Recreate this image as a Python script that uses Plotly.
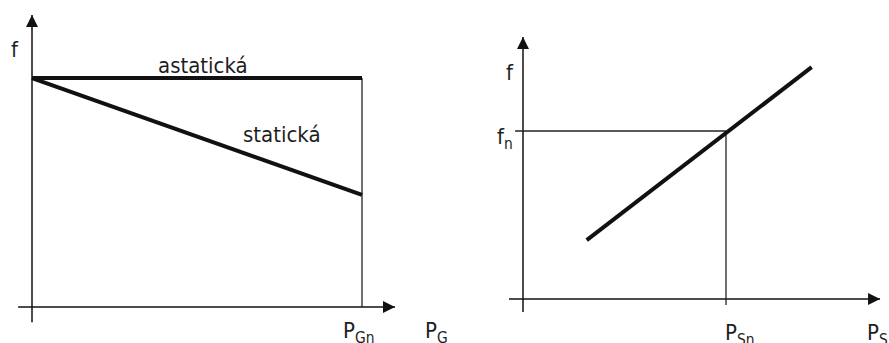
import plotly.graph_objects as go

# ---------------- data (conceptual units) ----------------
# Left panel: generator characteristics f(P_G), P_Gn = 1, nominal f = 1
pg = [0.0, 1.0]
f_astatic = [1.0, 1.0]
f_static = [1.0, 0.49]
pg_n = 1.0

# Right panel: load characteristic f(P_S), P_Sn = 1, f_n = 1
ps = [0.314, 1.422]
f_load = [0.35, 1.38]
ps_n = 1.0
f_n = 1.0

# axis extents (tail, arrow tip)
left_x_axis = [-0.042, 1.10]
left_y_axis = [-0.066, 1.275]
right_x_axis = [-0.069, 1.759]
right_y_axis = [-0.077, 1.56]

FONT = "DejaVu Sans Condensed, Tahoma, DejaVu Sans, sans-serif"
INK = "#111111"
THIN = "#222222"
TXT = "#1e1e1e"

fig = go.Figure()


def line(x, y, xa, ya, width, color):
    fig.add_trace(go.Scatter(x=x, y=y, mode="lines", xaxis=xa, yaxis=ya,
                             line=dict(color=color, width=width), hoverinfo="skip"))


def axes(xa, ya, xr, yr):
    line(xr, [0, 0], xa, ya, 1.5, INK)
    line([0, 0], yr, xa, ya, 1.5, INK)
    fig.add_trace(go.Scatter(x=[xr[1]], y=[0], mode="markers", xaxis=xa, yaxis=ya,
                             marker=dict(symbol="arrow-right", size=12, color=INK,
                                         line=dict(width=0)), hoverinfo="skip"))
    fig.add_trace(go.Scatter(x=[0], y=[yr[1]], mode="markers", xaxis=xa, yaxis=ya,
                             marker=dict(symbol="arrow-up", size=12, color=INK,
                                         line=dict(width=0)), hoverinfo="skip"))


# ---------- left panel ----------
axes("x", "y", left_x_axis, left_y_axis)
line([pg_n, pg_n], [0, f_astatic[-1]], "x", "y", 1.3, THIN)
line(pg, f_astatic, "x", "y", 4, INK)
line(pg, f_static, "x", "y", 4, INK)

# ---------- right panel ----------
axes("x2", "y2", right_x_axis, right_y_axis)
line([right_x_axis[0] + 0.03, ps_n], [f_n, f_n], "x2", "y2", 1.3, THIN)
line([ps_n, ps_n], [-0.036, f_n], "x2", "y2", 1.3, THIN)
line(ps, f_load, "x2", "y2", 4, INK)


def label(text, x, y, xr, yr, xanchor="center", yanchor="middle"):
    return dict(text=text, x=x, y=y, xref=xr, yref=yr, showarrow=False,
                xanchor=xanchor, yanchor=yanchor,
                font=dict(family=FONT, size=22, color=TXT))


annotations = [
    label("f", -0.052, 1.127, "x", "y"),
    label("astatická", 0.518, 1.057, "x", "y"),
    label("statická", 0.758, 0.755, "x", "y"),
    label("P<sub>Gn</sub>", 0.988, -0.11, "x", "y"),
    label("P<sub>G</sub>", 1.227, -0.11, "x", "y"),
    label("f", -0.064, 1.351, "x2", "y2"),
    label("f<sub>n</sub>", -0.04, 0.958, "x2", "y2", xanchor="right"),
    label("P<sub>Sn</sub>", 0.985, -0.212, "x2", "y2", xanchor="left"),
    label("P<sub>S</sub>", 1.685, -0.212, "x2", "y2", xanchor="left"),
]

hidden = dict(visible=False, showgrid=False, zeroline=False, fixedrange=True)

fig.update_layout(
    width=889, height=343,
    margin=dict(l=0, r=0, t=0, b=0),
    paper_bgcolor="white", plot_bgcolor="white",
    showlegend=False,
    xaxis=dict(domain=[0, 0.5], range=[-0.09697, 1.25], **hidden),
    yaxis=dict(domain=[0, 1], range=[-0.157, 1.341], **hidden),
    xaxis2=dict(domain=[0.5, 1], range=[-0.3867, 1.803], anchor="y2", **hidden),
    yaxis2=dict(domain=[0, 1], range=[-0.262, 1.780], anchor="x2", **hidden),
    annotations=annotations,
)

fig.write_html("out.html", config={"displayModeBar": False},
               post_script="document.body.style.margin='0';")
